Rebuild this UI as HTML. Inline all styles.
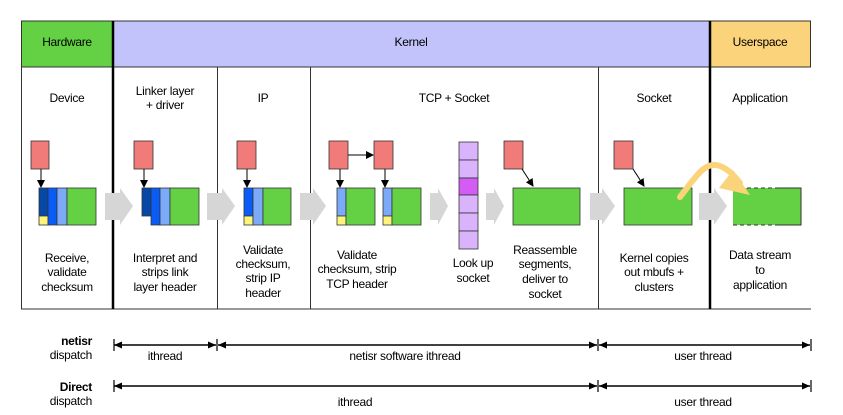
<!DOCTYPE html>
<html><head><meta charset="utf-8"><style>
html,body{margin:0;padding:0;background:#fff;}
svg{display:block;font-family:"Liberation Sans",Arial,sans-serif;font-size:12px;letter-spacing:-0.3px;}
</style></head><body>
<svg width="843" height="415" viewBox="0 0 843 415" xmlns="http://www.w3.org/2000/svg">
<defs>
<marker id="ah" markerWidth="8" markerHeight="8" refX="7" refY="4" orient="auto" markerUnits="userSpaceOnUse"><path d="M0,0 L8,4 L0,8 z" fill="#000"/></marker>
<marker id="dh" markerWidth="8" markerHeight="7" refX="8" refY="3.5" orient="auto-start-reverse" markerUnits="userSpaceOnUse"><path d="M0,0 L8,3.5 L0,7 z" fill="#000"/></marker>
</defs>
<rect x="21" y="21" width="92" height="46" fill="#64d145"/>
<rect x="113" y="21" width="597" height="46" fill="#c2c3fb"/>
<rect x="710" y="21" width="101" height="46" fill="#fbd37a"/>
<line x1="21" y1="21" x2="811" y2="21" stroke="#333" stroke-width="1"/>
<line x1="21" y1="67" x2="811" y2="67" stroke="#333" stroke-width="1"/>
<line x1="21" y1="309" x2="811" y2="309" stroke="#333" stroke-width="1"/>
<line x1="21.5" y1="21" x2="21.5" y2="309" stroke="#333" stroke-width="1"/>
<line x1="113" y1="21" x2="113" y2="309" stroke="#000" stroke-width="2.5"/>
<line x1="710" y1="21" x2="710" y2="309" stroke="#000" stroke-width="2.5"/>
<line x1="217.5" y1="67" x2="217.5" y2="309" stroke="#333"/>
<line x1="310.5" y1="67" x2="310.5" y2="309" stroke="#333"/>
<line x1="598.5" y1="67" x2="598.5" y2="309" stroke="#333"/>
<line x1="810.5" y1="21" x2="810.5" y2="67" stroke="#333"/>
<g text-anchor="middle" fill="#000">
<text x="67" y="46">Hardware</text>
<text x="411" y="46">Kernel</text>
<text x="760" y="46">Userspace</text>
<text x="67" y="102">Device</text>
<text x="165" y="95">Linker layer</text>
<text x="165" y="109">+ driver</text>
<text x="263" y="102">IP</text>
<text x="454" y="102">TCP + Socket</text>
<text x="654" y="102">Socket</text>
<text x="760" y="102">Application</text>
<text x="67" y="262">Receive,</text><text x="67" y="276">validate</text><text x="67" y="291">checksum</text>
<text x="165" y="262">Interpret and</text><text x="165" y="276">strips link</text><text x="165" y="291">layer header</text>
<text x="263" y="254">Validate</text><text x="263" y="268">checksum,</text><text x="263" y="282">strip IP</text><text x="263" y="297">header</text>
<text x="357" y="259">Validate</text><text x="357" y="273">checksum, strip</text><text x="357" y="288">TCP header</text>
<text x="473" y="267">Look up</text><text x="473" y="282">socket</text>
<text x="545" y="254">Reassemble</text><text x="545" y="268">segments,</text><text x="545" y="283">deliver to</text><text x="545" y="298">socket</text>
<text x="654" y="262">Kernel copies</text><text x="654" y="276">out mbufs +</text><text x="654" y="291">clusters</text>
<text x="760" y="259">Data stream</text><text x="760" y="274">to</text><text x="760" y="289">application</text>
</g>
<g fill="#d6d6d6">
<path d="M105,193 H120 V188 L133,206 L120,225 V220 H105 z"/>
<path d="M207,193 H222 V188 L235,206 L222,225 V220 H207 z"/>
<path d="M300,193 H313 V188 L326,206 L313,225 V220 H300 z"/>
<path d="M430,193 H438 V188 L448,206 L438,225 V220 H430 z"/>
<path d="M486,193 H494 V188 L504,206 L494,225 V220 H486 z"/>
<path d="M590,193 H602 V188 L615,206 L602,225 V220 H590 z"/>
<path d="M699,193 H714 V188 L727,206 L714,225 V220 H699 z"/>
</g>
<g stroke="#333" stroke-width="0.8">
<g fill="#f07b78">
<rect x="31" y="141" width="18" height="28"/>
<rect x="134" y="141" width="19" height="28"/>
<rect x="237" y="141" width="19" height="28"/>
<rect x="329" y="141" width="19" height="28"/>
<rect x="374" y="141" width="19" height="28"/>
<rect x="504" y="141" width="19" height="28"/>
<rect x="614" y="141" width="19" height="28"/>
</g>
<rect x="39" y="188" width="9" height="28" fill="#0648a6"/>
<rect x="39" y="216" width="9" height="9" fill="#fdf57b"/>
<rect x="48" y="188" width="9" height="37" fill="#0a5cf7"/>
<rect x="57" y="188" width="10" height="37" fill="#7aaaf8"/>
<rect x="67" y="188" width="29" height="37" fill="#64d145"/>
<rect x="142" y="188" width="9" height="28" fill="#0648a6"/>
<rect x="151" y="188" width="9" height="37" fill="#0a5cf7"/>
<rect x="160" y="188" width="10" height="37" fill="#7aaaf8"/>
<rect x="170" y="188" width="29" height="37" fill="#64d145"/>
<rect x="244" y="188" width="9" height="28" fill="#0a5cf7"/>
<rect x="244" y="216" width="9" height="9" fill="#fdf57b"/>
<rect x="253" y="188" width="10" height="37" fill="#7aaaf8"/>
<rect x="263" y="188" width="28" height="37" fill="#64d145"/>
<rect x="337" y="188" width="9" height="28" fill="#7aaaf8"/>
<rect x="337" y="216" width="9" height="9" fill="#fdf57b"/>
<rect x="346" y="188" width="29" height="37" fill="#64d145"/>
<rect x="383" y="188" width="9" height="28" fill="#7aaaf8"/>
<rect x="383" y="216" width="9" height="9" fill="#fdf57b"/>
<rect x="392" y="188" width="29" height="37" fill="#64d145"/>
<rect x="459" y="142" width="19" height="18" fill="#d9b3fb"/>
<rect x="459" y="160" width="19" height="18" fill="#d9b3fb"/>
<rect x="459" y="178" width="19" height="17" fill="#d35cf5"/>
<rect x="459" y="195" width="19" height="18" fill="#d9b3fb"/>
<rect x="459" y="213" width="19" height="18" fill="#d9b3fb"/>
<rect x="459" y="231" width="19" height="18" fill="#d9b3fb"/>
<rect x="513" y="188" width="67" height="37" fill="#64d145"/>
<rect x="624" y="188" width="68" height="37" fill="#64d145"/>
</g>
<rect x="733" y="188" width="68" height="37" fill="#64d145"/>
<path d="M733,188 H776 M733,225 H776" stroke="#333" stroke-width="1" stroke-dasharray="4,3" fill="none"/>
<path d="M776,188 H801 V225 H776" stroke="#333" stroke-width="1" fill="none"/>
<g stroke="#000" stroke-width="1" marker-end="url(#ah)">
<line x1="41" y1="169" x2="41" y2="187"/>
<line x1="144" y1="169" x2="144" y2="187"/>
<line x1="247" y1="169" x2="247" y2="187"/>
<line x1="340" y1="169" x2="340" y2="187"/>
<line x1="385" y1="169" x2="385" y2="187"/>
<line x1="348" y1="155" x2="373" y2="155"/>
<line x1="522" y1="169" x2="533" y2="186"/>
<line x1="633" y1="169" x2="644" y2="186"/>
</g>
<path d="M680,197 C695,178 705,160 720,166 C730,170 736,178 740,183" stroke="#fbd37a" stroke-width="6" fill="none" stroke-linecap="round"/>
<path d="M733,170 L750,195 L719,188 z" fill="#fbd37a"/>
<g text-anchor="end">
<text x="92" y="345" font-weight="bold">netisr</text>
<text x="92" y="359">dispatch</text>
<text x="92" y="391" font-weight="bold">Direct</text>
<text x="92" y="405">dispatch</text>
</g>
<g stroke="#000" stroke-width="1.6" marker-start="url(#dh)" marker-end="url(#dh)">
<line x1="114" y1="345" x2="216" y2="345"/>
<line x1="218" y1="345" x2="597" y2="345"/>
<line x1="599" y1="345" x2="810" y2="345"/>
<line x1="114" y1="386" x2="597" y2="386"/>
<line x1="599" y1="386" x2="810" y2="386"/>
</g>
<g stroke="#000" stroke-width="1.2">
<line x1="114" y1="339" x2="114" y2="351"/><line x1="217" y1="339" x2="217" y2="351"/><line x1="598" y1="339" x2="598" y2="351"/><line x1="811" y1="339" x2="811" y2="351"/>
<line x1="114" y1="380" x2="114" y2="392"/><line x1="598" y1="380" x2="598" y2="392"/><line x1="811" y1="380" x2="811" y2="392"/>
</g>
<g text-anchor="middle">
<text x="165" y="360">ithread</text>
<text x="405" y="360">netisr software ithread</text>
<text x="703" y="360">user thread</text>
<text x="355" y="406">ithread</text>
<text x="703" y="406">user thread</text>
</g>
</svg>
</body></html>
